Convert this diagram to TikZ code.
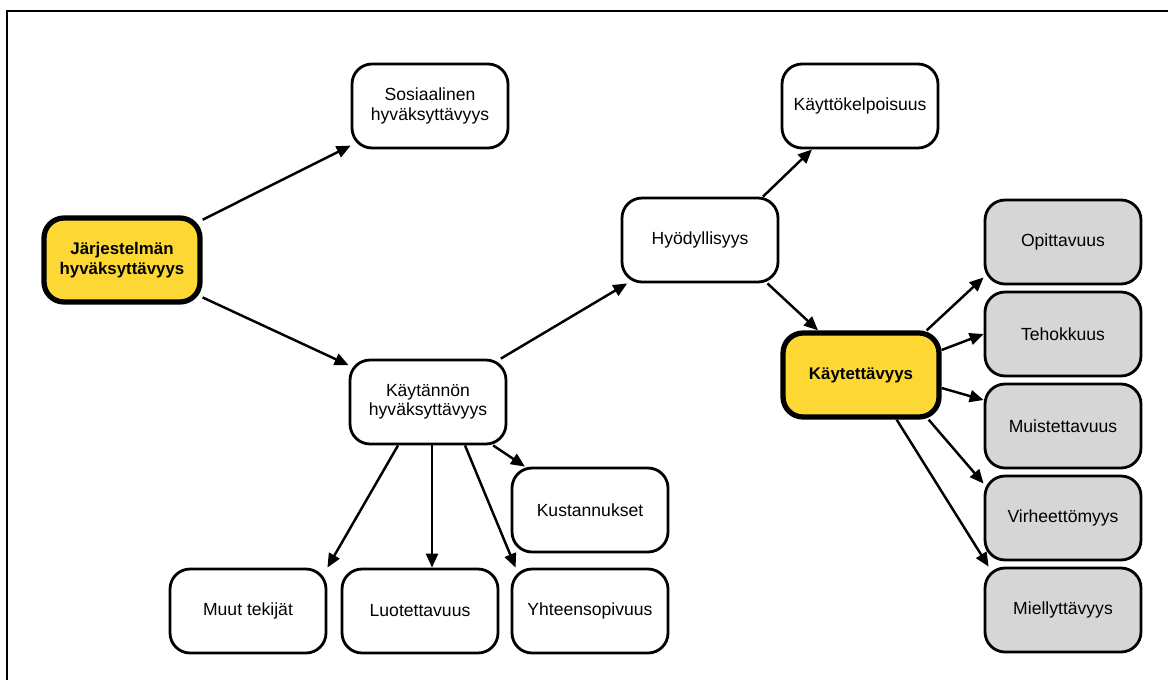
\documentclass[tikz,border=0pt]{standalone}
\usepackage{fontspec}
\setmainfont{Liberation Sans}
\usepackage{tikz}
\usetikzlibrary{arrows.meta,positioning,calc}
\usepackage{xcolor}
\definecolor{sun}{HTML}{FDD835}
\definecolor{ash}{HTML}{D6D6D6}

\begin{document}
\begin{tikzpicture}[x=0.02cm, y=-0.02cm,
  box/.style={draw, line width=1.6pt, rounded corners=0.4cm, fill=white,
    minimum width=3.12cm, minimum height=1.68cm, align=center,
    font=\fontsize{10}{11}\selectfont},
  keybox/.style={box, fill=sun, line width=3pt,
    font=\fontsize{9.6}{11.5}\selectfont\bfseries},
  greybox/.style={box, fill=ash},
  arr/.style={-{Triangle[length=0.28cm,width=0.24cm]}, line width=1.4pt}]
  \useasboundingbox (0,0) rectangle (1168,679);
  % frame, cut off at right and bottom
  \draw[line width=1.1pt] (7,685) -- (7,11) -- (1175,11);

  % left part
  \node[keybox] (jarj) at (122,260) {Järjestelmän\\hyväksyttävyys};
  \node[box] (sos) at (430,106) {Sosiaalinen\\hyväksyttävyys};
  \node[box] (kayt) at (428,402) {Käytännön\\hyväksyttävyys};
  \node[box] (kust) at (590,510) {Kustannukset};
  \node[box] (muut) at (248,611) {Muut tekijät};
  \node[box] (luot) at (420,611) {Luotettavuus};
  \node[box] (yht) at (590,611) {Yhteensopivuus};

  % middle part
  \node[box] (hyod) at (700,240) {Hyödyllisyys};
  \node[box] (kelp) at (860,106) {Käyttökelpoisuus};
  \node[keybox] (kaytt) at (861,375) {Käytettävyys};

  % right column
  \node[greybox] (opi) at (1063,242) {Opittavuus};
  \node[greybox] (teho) at (1063,334) {Tehokkuus};
  \node[greybox] (muis) at (1063,426) {Muistettavuus};
  \node[greybox] (virh) at (1063,518) {Virheettömyys};
  \node[greybox] (miel) at (1063,610) {Miellyttävyys};

  % arrows
  \draw[arr] (jarj) -- (sos);
  \draw[arr] (jarj) -- (kayt);
  \draw[arr] (kayt) -- (hyod);
  \draw[arr] (kayt) -- (kust);
  \draw[arr] ([xshift=-0.6cm]kayt.south) -- (muut.north east);
  \draw[arr] ([xshift=0.08cm]kayt.south) -- ([xshift=0.08cm]kayt.south |- luot.north);
  \draw[arr] ([xshift=0.74cm]kayt.south) -- ([xshift=0.1cm]yht.north west);
  \draw[arr] ([xshift=1.26cm]hyod.north) -- ([xshift=-0.96cm]kelp.south);
  \draw[arr] ([xshift=-0.24cm]hyod.south east) -- ([xshift=-0.86cm]kaytt.north);
  \draw[arr] ([xshift=-0.3cm]kaytt.north east) -- ([yshift=0.16cm]opi.south west);
  \draw[arr] ([yshift=0.5cm]kaytt.east) -- (teho.west);
  \draw[arr] ([yshift=-0.26cm]kaytt.east) -- ([yshift=0.52cm]muis.west);
  \draw[arr] ([xshift=-0.26cm]kaytt.south east) -- ([yshift=-0.18cm]virh.north west);
  \draw[arr] ([xshift=-0.9cm]kaytt.south east) -- ([xshift=0.1cm]miel.north west);
\end{tikzpicture}
\end{document}
